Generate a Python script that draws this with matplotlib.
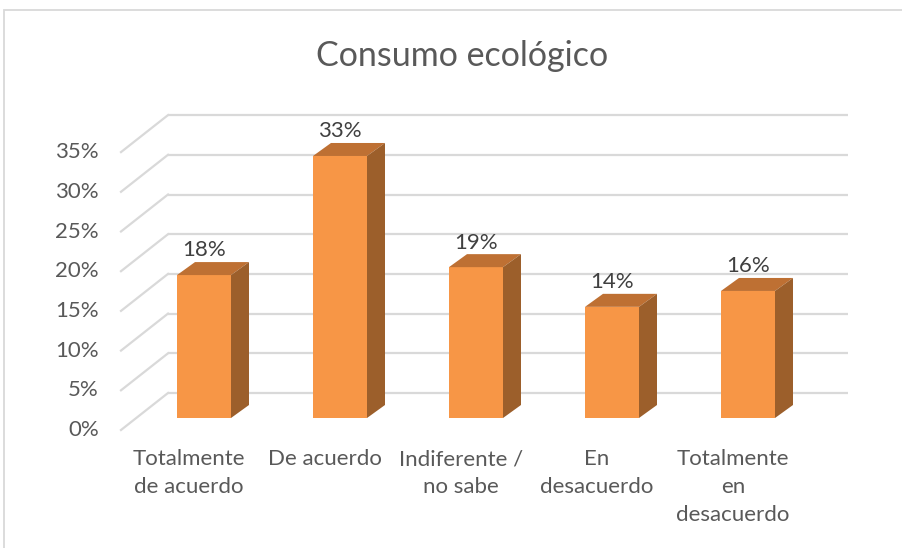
import matplotlib.pyplot as plt
from matplotlib.patches import Polygon, Rectangle

categories = ["Totalmente\nde acuerdo", "De acuerdo", "Indiferente /\nno sabe",
              "En\ndesacuerdo", "Totalmente\nen\ndesacuerdo"]
values = [18, 33, 19, 14, 16]
labels = ["18%", "33%", "19%", "14%", "16%"]
ticks = [0, 5, 10, 15, 20, 25, 30, 35]

plt.rcParams['font.family'] = ['Lato', 'DejaVu Sans']

W, H = 903, 548
fig = plt.figure(figsize=(W / 100, H / 100), dpi=100)
ax = fig.add_axes([0, 0, 1, 1])

# pixel layout of the pseudo-3D chart
px_cat = 136.0      # pixels per category
px_pct = 7.94       # pixels per percent
x0_px = 204.0       # first bar centre (front face)
y0_px = 418.0       # bar floor from top
ax.set_xlim(-x0_px / px_cat, (W - x0_px) / px_cat)
ax.set_ylim(-(H - y0_px) / px_pct, y0_px / px_pct)
ax.axis('off')

# depth offsets (category units, percent units)
back_dx, back_dy = 32 / px_cat, 25 / px_pct
front_dx, front_dy = -15 / px_cat, -12 / px_pct
bar_dx, bar_dy = 18 / px_cat, 13 / px_pct
bar_w = 54 / px_cat

grid_col = '#d9d9d9'
text_col = '#595959'
n = len(categories)

# walls / gridlines
for t in ticks:
    ax.plot([-0.5 + back_dx, n - 0.5 + back_dx], [t + back_dy, t + back_dy],
            color=grid_col, lw=1.6, zorder=1, solid_capstyle='butt')
    ax.plot([-0.5 + front_dx, -0.5 + back_dx], [t + front_dy, t + back_dy],
            color=grid_col, lw=1.6, zorder=1)
    ax.text(-0.5 + front_dx - 22 / px_cat, t + front_dy, f"{t}%", ha='right',
            va='center', fontsize=16, color=text_col)

front_c = '#f79646'
top_c = '#be7033'
side_c = '#9c5f2b'

for i, v in enumerate(values):
    xl, xr = i - bar_w / 2, i + bar_w / 2
    ax.add_patch(Polygon([(xl, 0), (xr, 0), (xr, v), (xl, v)], closed=True,
                         facecolor=front_c, edgecolor='none', zorder=3))
    ax.add_patch(Polygon([(xl, v), (xr, v), (xr + bar_dx, v + bar_dy),
                          (xl + bar_dx, v + bar_dy)], closed=True,
                         facecolor=top_c, edgecolor='none', zorder=3))
    ax.add_patch(Polygon([(xr, 0), (xr + bar_dx, bar_dy), (xr + bar_dx, v + bar_dy),
                          (xr, v)], closed=True,
                         facecolor=side_c, edgecolor='none', zorder=3))
    ax.text(i, v + bar_dy + 0.2, labels[i], ha='center', va='bottom',
            fontsize=16, color='#404040', zorder=4)
    ax.text(i + front_dx, front_dy - 2.4, categories[i], ha='center', va='top',
            fontsize=16, color=text_col, linespacing=1.5)

ax.text(0.512, 0.897, "Consumo ecológico", transform=ax.transAxes, ha='center',
        va='center', fontsize=24.5, color=text_col)

# chart border (cropped on right and bottom)
fig.add_artist(Rectangle((4.5 / W, -0.1), 1.2, 1.1 - 10.5 / H, transform=fig.transFigure,
                         fill=False, edgecolor=grid_col, lw=1.3))

fig.savefig("out.png", dpi=100, facecolor='white')
